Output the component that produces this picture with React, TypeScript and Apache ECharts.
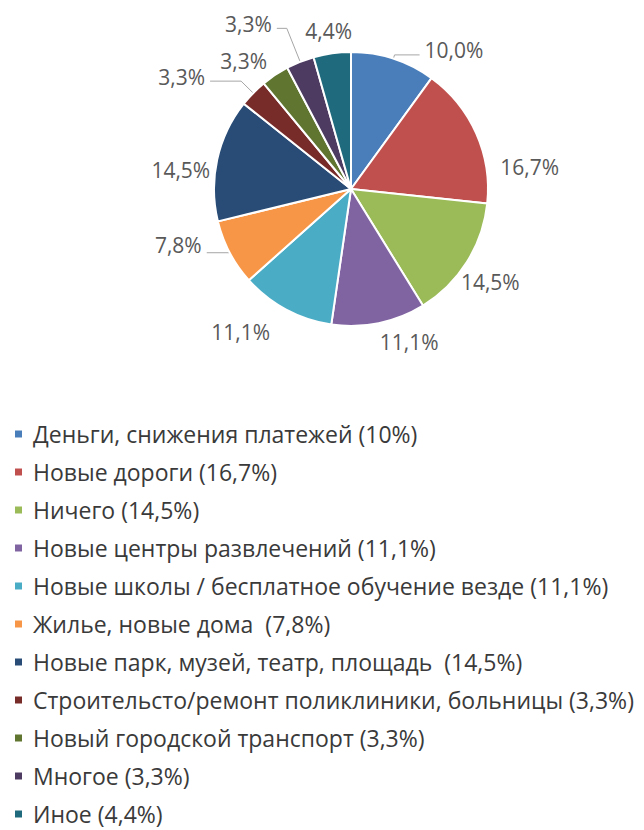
import React, { useEffect, useRef } from "react";
import * as echarts from "echarts";

const categories = [
  "Деньги, снижения платежей (10%)",
  "Новые дороги (16,7%)",
  "Ничего (14,5%)",
  "Новые центры развлечений (11,1%)",
  "Новые школы / бесплатное обучение везде (11,1%)",
  "Жилье, новые дома  (7,8%)",
  "Новые парк, музей, театр, площадь  (14,5%)",
  "Строительсто/ремонт поликлиники, больницы (3,3%)",
  "Новый городской транспорт (3,3%)",
  "Многое (3,3%)",
  "Иное (4,4%)",
];
const values = [10.0, 16.7, 14.5, 11.1, 11.1, 7.8, 14.5, 3.3, 3.3, 3.3, 4.4];
const colors = [
  "#4A7EBB",
  "#C0504D",
  "#9BBB59",
  "#8064A2",
  "#4BACC6",
  "#F79646",
  "#284C76",
  "#772C2A",
  "#5F7530",
  "#4D3B62",
  "#1F6A7C",
];

// label layout (kept apart from the data): leader line lengths and text nudges
const lineShow = [true, false, false, false, false, true, false, true, false, true, false];
const lineLen = [4, 0, 0, 0, 0, 0, 0, 17, 0, 36, 0];
const lineLen2 = [25, 0, 0, 0, 0, 23, 0, 31, 0, 10, 0];
const nudgeX = [0, 19, -11, -4, -11, 0, -2, 0, -3, 0, 25];
const nudgeY = [-5, 34, 20, 19, 22, -8, 10, -4, -14, -4, -22];

export default function App() {
  const ref = useRef<HTMLDivElement>(null);
  useEffect(() => {
    if (!ref.current) return;
    const chart = echarts.init(ref.current, null, { renderer: "svg" });
    chart.setOption({
      animation: false,
      color: colors,
      legend: {
        orient: "vertical",
        left: 13,
        top: 421,
        padding: 0,
        icon: "rect",
        itemWidth: 9,
        itemHeight: 9,
        itemGap: 12,
        textStyle: {
          fontFamily: "Open Sans",
          fontSize: 23,
          lineHeight: 26,
          color: "#3a3a3a",
          padding: [0, 0, 0, 5],
        },
        selectedMode: false,
      },
      series: [
        {
          type: "pie",
          center: [351, 189],
          radius: 137,
          startAngle: 90,
          clockwise: true,
          avoidLabelOverlap: false,
          itemStyle: { borderColor: "#ffffff", borderWidth: 2 },
          label: {
            show: true,
            position: "outside",
            fontFamily: "Open Sans",
            fontSize: 21,
            color: "#595959",
            formatter: (p: any) => p.value.toFixed(1).replace(".", ",") + "%",
          },
          labelLine: { lineStyle: { color: "#A6A6A6", width: 1 } },
          labelLayout: (p: any) => {
            const i = p.dataIndex;
            if (lineShow[i]) {
              return { dx: nudgeX[i], dy: nudgeY[i], labelLinePoints: p.labelLinePoints };
            }
            return { dx: nudgeX[i], dy: nudgeY[i] };
          },
          data: categories.map((c, i) => ({
            name: c,
            value: values[i],
            labelLine: { show: lineShow[i], length: lineLen[i], length2: lineLen2[i] },
          })),
        },
      ],
    });
    return () => chart.dispose();
  }, []);
  return (
    <div
      ref={ref}
      style={{ position: "absolute", left: 0, top: 0, width: 644, height: 830 }}
    />
  );
}
